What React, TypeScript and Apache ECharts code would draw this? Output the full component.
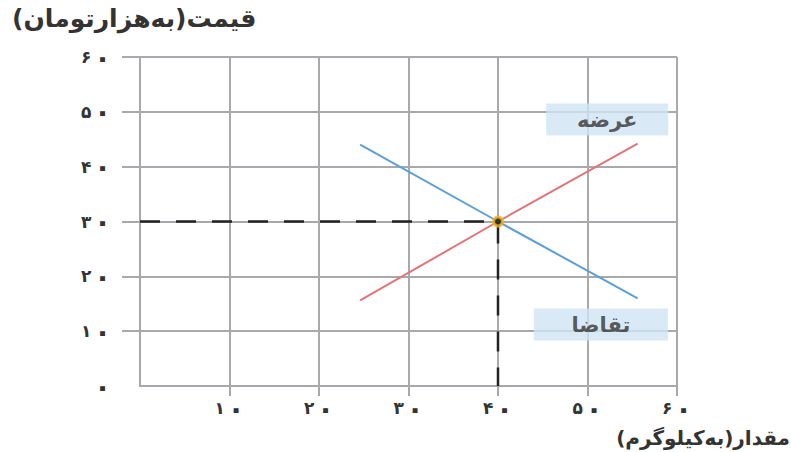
import React, { useEffect, useRef } from "react";
import * as echarts from "echarts";

const tickValues = [0, 10, 20, 30, 40, 50, 60];
const tickLabels = ["۰", "۱۰", "۲۰", "۳۰", "۴۰", "۵۰", "۶۰"];
const demand: [number, number][] = [
  [24.6, 44],
  [40, 30],
  [55.6, 16],
];
const supply: [number, number][] = [
  [24.6, 15.6],
  [40, 30],
  [55.6, 44.2],
];
const equilibrium: [number, number] = [40, 30];
const guideLine: [number, number][] = [
  [0, 30],
  [40, 30],
  [40, 0],
];
const boxNames = ["عرضه", "تقاضا"];
const boxPositions: [number, number][] = [
  [52.2, 48.6],
  [51.5, 11.2],
];
const yTitle = "قیمت(به‌هزارتومان)";
const xTitle = "مقدار(به‌کیلوگرم)";

const FONT = '"DejaVu Sans", sans-serif';

function fmt(v: number): string {
  const i = tickValues.indexOf(v);
  if (i < 0) return "";
  return tickLabels[i]
    .split("")
    .map((c) => (c === "۰" ? `{z|${c}}` : `{d|${c}}`))
    .join("{s| }");
}

const rich = {
  d: { fontFamily: FONT, fontSize: 17, fontWeight: "bold", color: "#333", lineHeight: 18 },
  z: { fontFamily: FONT, fontSize: 28, fontWeight: "bold", color: "#333", lineHeight: 18 },
  s: { fontFamily: FONT, fontSize: 8, color: "#333", lineHeight: 18 },
};

export default function App() {
  const ref = useRef<HTMLDivElement>(null);
  useEffect(() => {
    document.body.style.margin = "0";
    const chart = echarts.init(ref.current!, null, { renderer: "svg" });
    const gridColor = "#a9a9ad";
    chart.setOption({
      animation: false,
      backgroundColor: "#ffffff",
      grid: { left: 140, right: 114, top: 57, bottom: 66 },
      xAxis: {
        type: "value",
        min: 0,
        max: 60,
        interval: 10,
        axisLine: { show: true, lineStyle: { color: gridColor, width: 2 } },
        axisTick: {
          show: true,
          length: 10,
          customValues: tickValues.slice(1),
          lineStyle: { color: gridColor, width: 2 },
        },
        axisLabel: {
          margin: 13,
          lineHeight: 18,
          rich,
          formatter: (v: number) => (v === 0 ? "" : fmt(v)),
        },
        splitLine: { show: true, lineStyle: { color: gridColor, width: 2 } },
      },
      yAxis: {
        type: "value",
        min: 0,
        max: 60,
        interval: 10,
        axisLine: { show: true, lineStyle: { color: gridColor, width: 2 } },
        axisTick: {
          show: true,
          length: 18,
          customValues: tickValues.slice(1),
          lineStyle: { color: gridColor, width: 2 },
        },
        axisLabel: {
          margin: 29,
          lineHeight: 18,
          rich,
          formatter: (v: number) => fmt(v),
        },
        splitLine: { show: true, lineStyle: { color: gridColor, width: 2 } },
      },
      series: [
        {
          type: "line",
          data: guideLine,
          symbol: "none",
          z: 3,
          lineStyle: { color: "#222", width: 2.5, type: [20, 16] },
        },
        {
          type: "line",
          data: demand,
          symbol: "none",
          z: 4,
          lineStyle: { color: "#5b9fd6", width: 2 },
        },
        {
          type: "line",
          data: supply,
          symbol: "none",
          z: 4,
          lineStyle: { color: "#e07478", width: 2 },
        },
        {
          type: "scatter",
          data: [equilibrium],
          symbol: "circle",
          symbolSize: 9,
          z: 6,
          itemStyle: { color: "#1a1a1a", borderColor: "#f4b81c", borderWidth: 3 },
        },
        {
          type: "scatter",
          z: 5,
          symbol: "rect",
          data: boxNames.map((n, i) => ({
            name: n,
            value: boxPositions[i],
            symbolSize: i === 0 ? [122, 32] : [134, 32],
          })),
          itemStyle: { color: "#cfe5f4" },
          label: {
            show: true,
            position: "inside",
            formatter: (p: any) => p.name,
            fontFamily: FONT,
            fontSize: 21,
            fontWeight: "bold",
            color: "#333",
          },
        },
      ],
      graphic: [
        {
          type: "text",
          left: 12,
          top: 6,
          style: {
            text: yTitle,
            font: `bold 25px ${FONT}`,
            fill: "#333",
          },
        },
        {
          type: "text",
          right: 1,
          top: 428,
          style: {
            text: xTitle,
            font: `bold 20px ${FONT}`,
            fill: "#333",
          },
        },
      ],
    });
    return () => chart.dispose();
  }, []);
  return <div ref={ref} style={{ width: 791, height: 452 }} />;
}
